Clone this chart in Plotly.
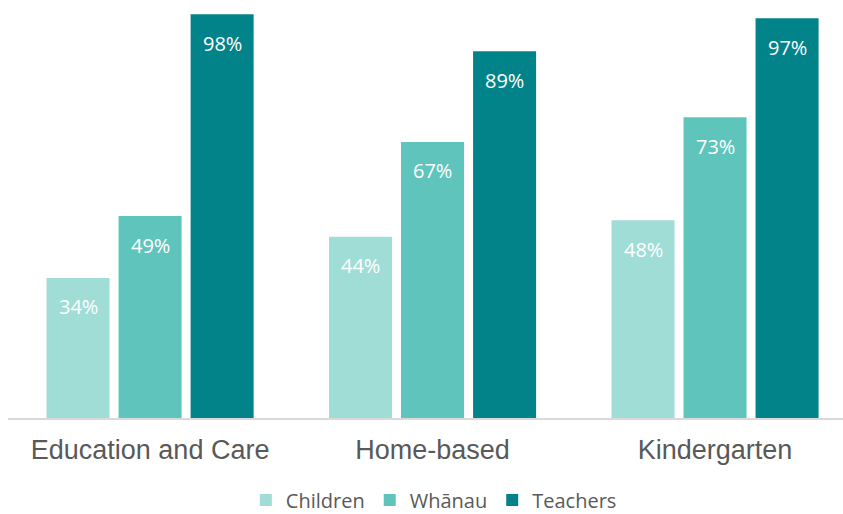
import plotly.graph_objects as go

# Share of each group, by service type (percent)
categories = ["Education and Care", "Home-based", "Kindergarten"]
series_names = ["Children", "Whānau", "Teachers"]
children = [34, 44, 48]
whanau = [49, 67, 73]
teachers = [98, 89, 97]
series_values = [children, whanau, teachers]
colors = ["#a0ddd7", "#5fc5bc", "#02838a"]

# pixel spacing between neighbouring bars inside a group
BAR_PITCH = 72

fig = go.Figure()
for name, vals, col in zip(series_names, series_values, colors):
    fig.add_trace(go.Bar(
        name=name,
        x=categories,
        y=vals,
        marker=dict(color=col, line=dict(width=0)),
        hoverinfo="skip",
    ))

# value labels in white, just below the top of each bar
for i, vals in enumerate(series_values):
    for cat, v in zip(categories, vals):
        fig.add_annotation(
            x=cat, y=v, xref="x", yref="y",
            text="%d%%" % v,
            showarrow=False,
            xshift=(i - 1) * BAR_PITCH,
            yshift=-29,
            yanchor="middle",
            font=dict(family="Open Sans", size=20, color="white"),
        )

fig.update_layout(
    width=843,
    height=514,
    margin=dict(l=8, r=0, t=6, b=96, autoexpand=False),
    paper_bgcolor="white",
    plot_bgcolor="white",
    barmode="group",
    bargap=0.235,
    bargroupgap=0.125,
    showlegend=True,
    legend=dict(
        orientation="h",
        x=0.51, xanchor="center",
        y=-0.199, yanchor="middle",
        borderwidth=0,
        font=dict(family="Open Sans", size=20, color="#595959"),
        itemclick=False,
    ),
    xaxis=dict(
        range=[-0.503, 2.453],
        showline=True,
        linecolor="#d9d9d9",
        linewidth=2,
        showgrid=False,
        ticks="",
        ticklabelstandoff=7,
        tickfont=dict(family="Liberation Sans", size=27, color="#595959"),
    ),
    yaxis=dict(
        range=[0, 100],
        visible=False,
        showgrid=False,
        zeroline=False,
    ),
)

fig.write_html("out.html")
